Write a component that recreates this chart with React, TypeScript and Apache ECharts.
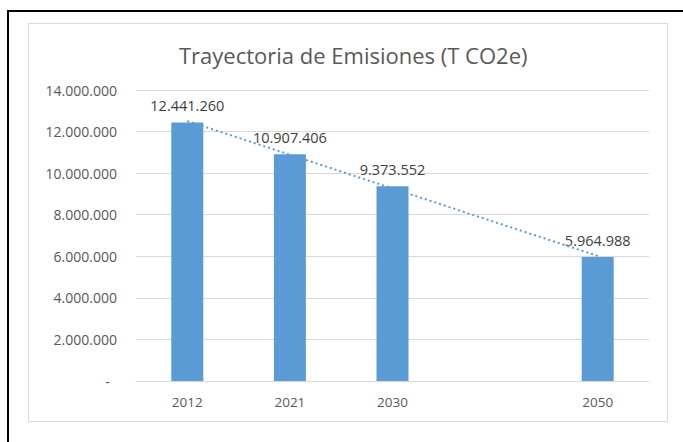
import React, { useEffect, useRef } from "react";
import * as echarts from "echarts";

const categories = ["2012", "2021", "2030", "", "2050"];
const emissions: (number | null)[] = [12441260, 10907406, 9373552, null, 5964988];
// Linear trendline end points
const trend: (number | null)[] = [12510000, null, null, null, 6020000];
const yTicks = [0, 2000000, 4000000, 6000000, 8000000, 10000000, 12000000, 14000000];

const fmt = (v: number) =>
  v === 0 ? "-  " : String(Math.round(v)).replace(/\B(?=(\d{3})+(?!\d))/g, ".");

export default function App() {
  const ref = useRef<HTMLDivElement>(null);
  useEffect(() => {
    if (!ref.current) return;
    const chart = echarts.init(ref.current, null, { renderer: "svg" });
    const font = "'Open Sans', 'Noto Sans', sans-serif";
    chart.setOption({
      animation: false,
      backgroundColor: "#ffffff",
      textStyle: { fontFamily: font },
      title: {
        text: "Trayectoria de Emisiones (T CO2e)",
        left: 174,
        top: 39,
        textStyle: { fontFamily: font, fontSize: 22, fontWeight: "normal", color: "#595959" },
      },
      graphic: [
        {
          type: "rect",
          shape: { x: 8, y: 11, width: 700, height: 460 },
          style: { fill: "none", stroke: "#000000", lineWidth: 2 },
          silent: true,
        },
        {
          type: "rect",
          shape: { x: 28.5, y: 23.5, width: 639, height: 398 },
          style: { fill: "none", stroke: "#d9d9d9", lineWidth: 1 },
          silent: true,
        },
      ],
      grid: { left: 136, right: 34, top: 90, bottom: 61, containLabel: false },
      xAxis: {
        type: "category",
        data: categories,
        axisLine: { show: true, lineStyle: { color: "#d9d9d9" } },
        axisTick: { show: false },
        axisLabel: { color: "#595959", fontSize: 13.5, margin: 14, fontFamily: font },
      },
      yAxis: {
        type: "value",
        min: yTicks[0],
        max: yTicks[yTicks.length - 1],
        interval: 2000000,
        axisLine: { show: false },
        axisTick: { show: false },
        splitLine: { lineStyle: { color: "#d9d9d9", width: 1 } },
        axisLabel: { color: "#595959", fontSize: 14, margin: 19, formatter: fmt, fontFamily: font },
      },
      series: [
        {
          type: "bar",
          data: emissions,
          barWidth: 32,
          itemStyle: { color: "#5b9bd5" },
          label: {
            show: true,
            position: "top",
            distance: 9,
            color: "#404040",
            fontSize: 14.5,
            fontFamily: font,
            formatter: (p: any) => fmt(p.value),
          },
        },
        {
          type: "line",
          data: trend,
          connectNulls: true,
          symbol: "none",
          z: 5,
          lineStyle: { color: "#5b9bd5", width: 2, type: [2, 3] },
        },
      ],
    });
    return () => chart.dispose();
  }, []);
  return (
    <div
      ref={ref}
      style={{ position: "fixed", left: 0, top: 0, width: 683, height: 442, background: "#fff" }}
    />
  );
}
